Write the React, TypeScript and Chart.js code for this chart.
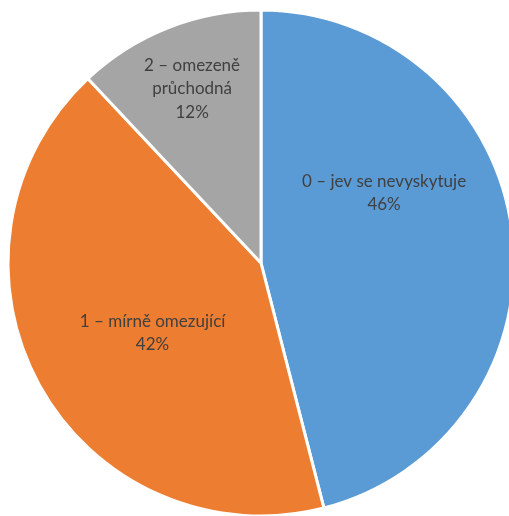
import React, { useEffect, useRef } from "react";
import { Chart, registerables } from "chart.js";

Chart.register(...registerables);

// Category names (multi-line where the label wraps inside its slice)
const categories: (string | string[])[] = [
  "0 – jev se nevyskytuje",
  "1 – mírně omezující",
  ["2 – omezeně", "průchodná"],
];

// Share of each category
const values: number[] = [46, 42, 12];

const sliceColors: string[] = ["#5B9BD5", "#ED7D31", "#A5A5A5"];

// Label placement per slice: angular shift (deg, from the slice's mid-angle)
// and distance from the centre as a fraction of the radius
const labelAngleShift: number[] = [-22.5, -4, 0];
const labelRadiusFrac: number[] = [0.56, 0.51, 0.74];

const FONT = "Lato, 'Open Sans', sans-serif";

const sliceLabels = {
  id: "sliceLabels",
  afterDatasetsDraw(chart: Chart) {
    const ctx = chart.ctx;
    const meta = chart.getDatasetMeta(0);
    const data = chart.data.datasets[0].data as number[];
    const total = data.reduce((a, b) => a + b, 0);
    ctx.save();
    ctx.fillStyle = "#404040";
    ctx.font = `17px ${FONT}`;
    ctx.textAlign = "center";
    ctx.textBaseline = "middle";
    const lineH = 23.5;
    meta.data.forEach((el: any, i: number) => {
      const { x, y, startAngle, endAngle, outerRadius } = el.getProps(
        ["x", "y", "startAngle", "endAngle", "outerRadius"],
        true
      );
      const mid = (startAngle + endAngle) / 2 + (labelAngleShift[i] * Math.PI) / 180;
      const r = outerRadius * labelRadiusFrac[i];
      const cx = x + Math.cos(mid) * r;
      const cy = y + Math.sin(mid) * r;
      const cat = categories[i];
      const lines = [...(Array.isArray(cat) ? cat : [cat]), `${Math.round((data[i] / total) * 100)}%`];
      const top = cy - ((lines.length - 1) * lineH) / 2;
      lines.forEach((t, k) => ctx.fillText(t, cx, top + k * lineH));
    });
    ctx.restore();
  },
};

export default function App() {
  const ref = useRef<HTMLCanvasElement>(null);

  useEffect(() => {
    if (!ref.current) return;
    const chart = new Chart(ref.current, {
      type: "pie",
      data: {
        labels: categories,
        datasets: [
          {
            data: values,
            backgroundColor: sliceColors,
            borderColor: "#ffffff",
            borderWidth: 3,
          },
        ],
      },
      options: {
        responsive: false,
        animation: false,
        radius: 253,
        layout: { padding: 0 },
        plugins: {
          legend: { display: false },
          tooltip: { enabled: false },
        },
      },
      plugins: [sliceLabels],
    });
    return () => chart.destroy();
  }, []);

  return (
    <div
      style={{
        position: "fixed",
        left: 0,
        top: 0,
        width: 509,
        height: 516,
        overflow: "hidden",
        background: "#ffffff",
      }}
    >
      <canvas ref={ref} width={522} height={526} style={{ display: "block" }} />
    </div>
  );
}
